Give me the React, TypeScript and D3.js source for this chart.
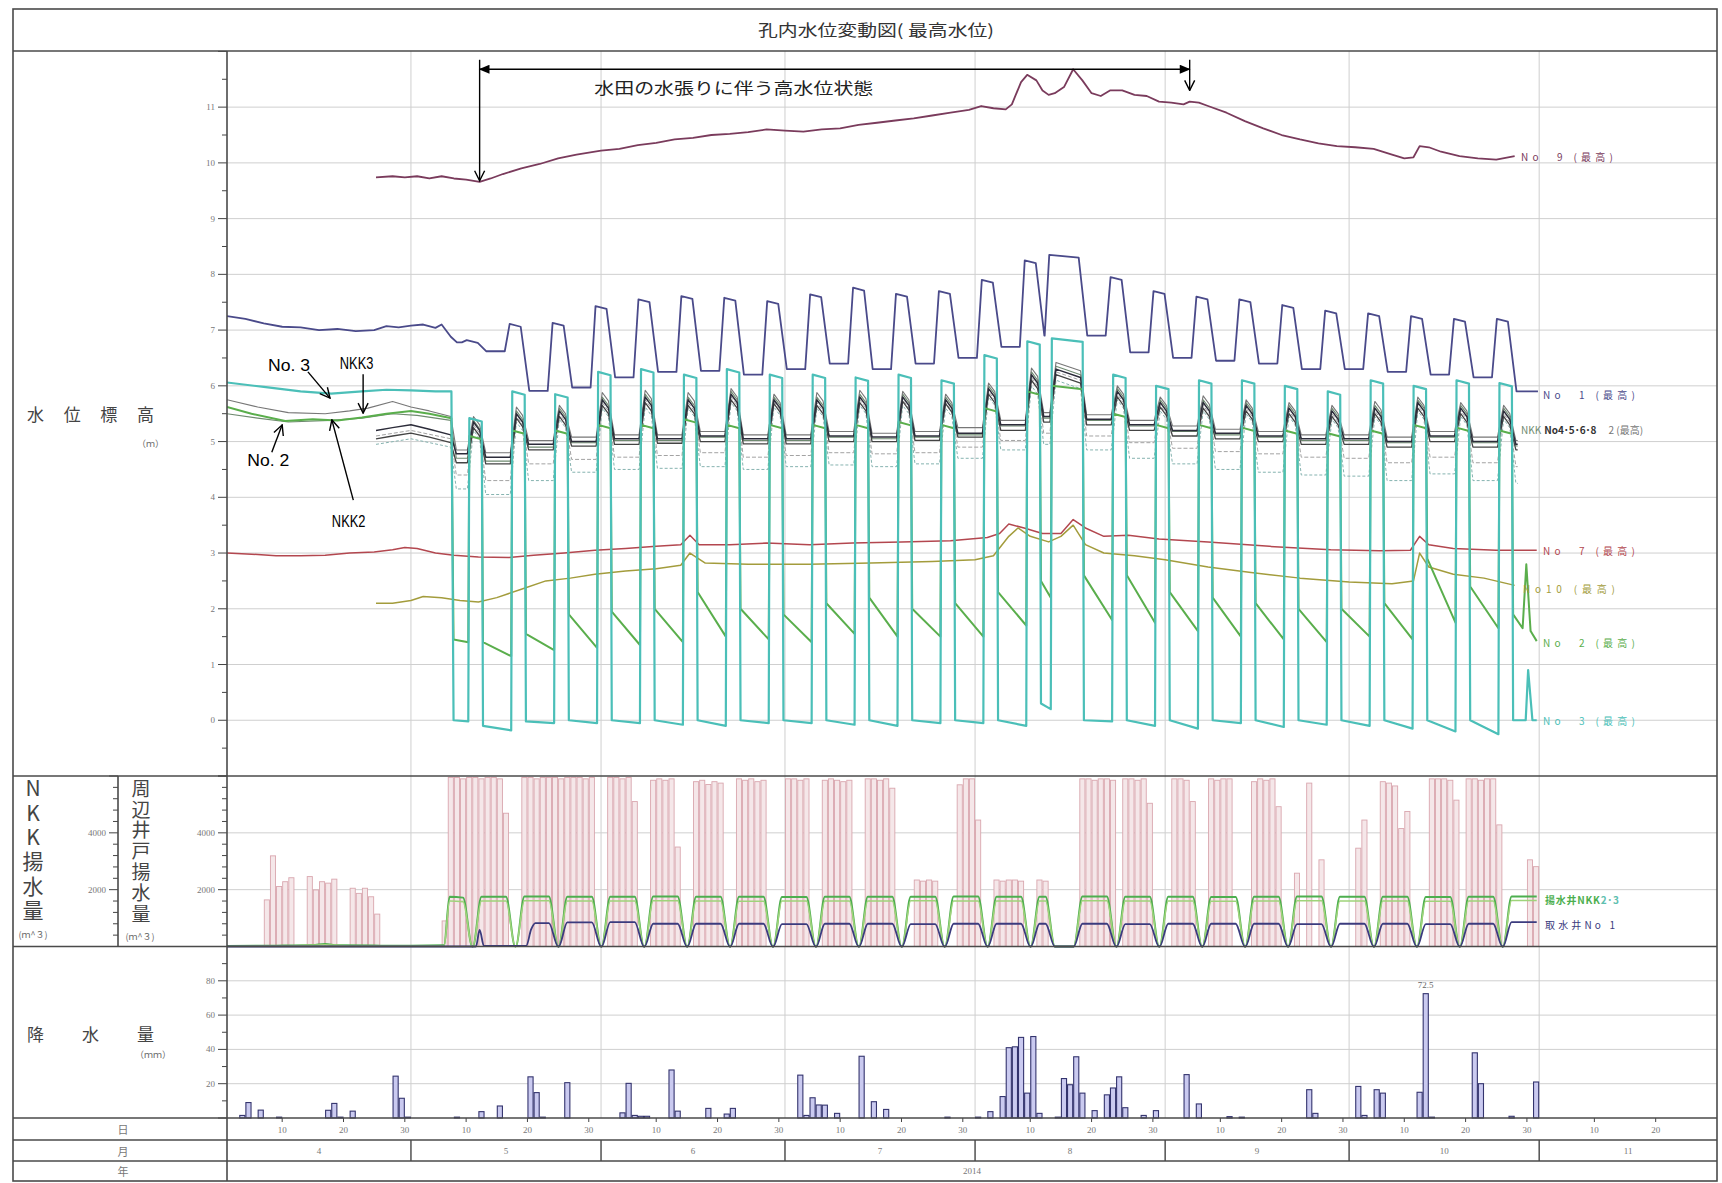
import React from 'react';
import * as d3 from 'd3';

type Pt = [number, number];

// ---- layout (px) ----
const W = 1722;
const H = 1183;
const FRAME_L = 13;
const FRAME_T = 9;
const FRAME_R = 1717;
const FRAME_B = 1181;
const TITLE_B = 51;
const PLOT_L = 227;
const PLOT_R = 1717;
const MAIN_B = 776;
const PUMP_B = 946.5;
const RAIN_B = 1118;
const DAY_B = 1140;
const MON_B = 1161;
const NKK_AXIS = 118;

// ---- time: day numbers counted from 2014-04-01 ----
const DAY0 = new Date(2014, 3, 1);
const DAY_END = new Date(2014, 10, 30);

// weekend / holiday pump stops [from, to]
const pumpStops: Pt[] = [
  [39.4, 41.6], [46.4, 48.6], [53.4, 55.6], [60.4, 62.6], [67.4, 69.6],
  [74.4, 76.6], [81.4, 83.6], [88.4, 90.6], [95.4, 97.6], [102.4, 104.6],
  [109.4, 111.6], [116.4, 118.6], [123.4, 125.6], [130.4, 132.6], [134.4, 139.6],
  [144.4, 146.6], [151.4, 153.6], [158.4, 160.6], [165.4, 167.6], [172.4, 174.6],
  [179.4, 181.6], [186.4, 188.6], [193.4, 195.6], [200.4, 202.6], [207.4, 209.6],
];
const PUMP_START = 36.8;

// ---- water levels (m) ----
const no9Level: Pt[] = [
  [24.3, 9.74], [27, 9.76], [29, 9.74], [31, 9.76], [33, 9.72], [35, 9.76], [37, 9.72], [39, 9.7],
  [41.2, 9.66], [43, 9.72], [45, 9.8], [48, 9.9], [51, 9.98], [54, 10.08], [57, 10.15], [61, 10.22],
  [64, 10.25], [67, 10.32], [70, 10.36], [73, 10.42], [76, 10.45], [79, 10.5], [82, 10.52], [85, 10.55],
  [88, 10.6], [91, 10.58], [94, 10.56], [97, 10.6], [100, 10.62], [103, 10.68], [106, 10.72], [109, 10.76],
  [112, 10.8], [115, 10.85], [118, 10.9], [121, 10.95], [123, 11.02], [125, 10.98], [127, 10.96], [128, 11.05],
  [129.5, 11.45], [130.5, 11.58], [132, 11.48], [133, 11.3], [134, 11.22], [135, 11.25], [136.5, 11.36],
  [138, 11.68], [139.5, 11.48], [141, 11.25], [142.5, 11.2], [144, 11.3], [146, 11.3], [148, 11.22],
  [150, 11.2], [152, 11.1], [154, 11.08], [156, 11.05], [157, 11.1], [158.5, 11.08], [160, 11.02],
  [163, 10.9], [166, 10.75], [169, 10.62], [172, 10.5], [175, 10.42], [178, 10.35], [181, 10.3],
  [184, 10.28], [187, 10.25], [190, 10.15], [192, 10.08], [193.5, 10.1], [194.5, 10.3], [196, 10.28],
  [198, 10.2], [201, 10.12], [204, 10.08], [207, 10.06], [210, 10.12],
];

const no7Level: Pt[] = [
  [0, 3.0], [4, 2.98], [8, 2.95], [12, 2.95], [16, 2.96], [20, 3.0], [24, 3.02], [27, 3.06], [29, 3.1],
  [31, 3.08], [34, 3.0], [37, 2.96], [41, 2.93], [46, 2.92], [50, 2.96], [55, 3.0], [60, 3.05], [65, 3.08],
  [70, 3.12], [74, 3.15], [75.5, 3.32], [77, 3.15], [82, 3.15], [88, 3.18], [95, 3.15], [102, 3.18],
  [110, 3.2], [118, 3.22], [124, 3.28], [126, 3.35], [127.5, 3.52], [130, 3.45], [133, 3.35], [136, 3.35],
  [138, 3.6], [140, 3.45], [143, 3.3], [147, 3.32], [152, 3.25], [160, 3.2], [170, 3.12], [180, 3.06],
  [188, 3.04], [193, 3.05], [194.5, 3.3], [196, 3.15], [200, 3.08], [207, 3.05], [213.6, 3.05],
];

const no10Level: Pt[] = [
  [24.3, 2.1], [27, 2.1], [30, 2.15], [32, 2.22], [35, 2.2], [38, 2.15], [41, 2.12], [44, 2.2], [48, 2.35],
  [52, 2.5], [56, 2.55], [60, 2.62], [65, 2.68], [70, 2.72], [74, 2.78], [75.5, 3.0], [78, 2.82], [85, 2.8],
  [95, 2.8], [105, 2.82], [115, 2.85], [122, 2.88], [125, 2.95], [127.5, 3.3], [129, 3.45], [131, 3.3],
  [134, 3.2], [136, 3.3], [138, 3.5], [140, 3.15], [143, 3.0], [148, 2.95], [153, 2.88], [160, 2.75],
  [167, 2.65], [175, 2.55], [183, 2.48], [190, 2.45], [193.5, 2.5], [194.5, 3.0], [196, 2.75], [200, 2.62],
  [205, 2.55], [210, 2.42],
];

// No.1
const no1Pre: Pt[] = [
  [0, 7.25], [3, 7.2], [6, 7.12], [9, 7.06], [12, 7.05], [15, 7.0], [18, 7.02], [21, 6.98], [24, 7.0],
  [26, 7.07], [28, 7.05], [30, 7.08], [32, 7.1], [34, 7.04], [35, 7.1], [36.5, 6.88],
];
const no1Peaks = [6.82, 7.11, 7.13, 7.43, 7.55, 7.61, 7.58, 7.52, 7.64, 7.76, 7.65, 7.7, 7.9, 8.25, 8.35,
  7.95, 7.7, 7.6, 7.55, 7.45, 7.35, 7.3, 7.25, 7.2, 7.2];
const no1Lows = [6.78, 6.62, 5.91, 5.97, 6.15, 6.25, 6.27, 6.2, 6.3, 6.4, 6.3, 6.4, 6.5, 6.7, 6.9, 6.9,
  6.6, 6.5, 6.45, 6.4, 6.3, 6.3, 6.25, 6.2, 6.15, 5.9];

// No.3 (teal)
const no3Pre: Pt[] = [
  [0, 6.06], [6, 5.98], [12, 5.9], [17, 5.86], [22, 5.9], [26, 5.93], [30, 5.92], [34, 5.9], [36.6, 5.9],
];
const no3Peaks = [5.42, 5.9, 5.85, 6.25, 6.3, 6.2, 6.3, 6.2, 6.2, 6.15, 6.2, 6.1, 6.55, 6.8, 6.85, 6.2,
  6.0, 6.1, 6.1, 6.0, 5.9, 6.1, 6.0, 6.1, 6.05];
const no3LowStart = [0, -0.1, -0.02, 0, 0, 0, 0, 0, 0, 0, 0, 0, 0, 0, 0.3, 0, 0, 0, 0, 0, 0, 0, 0, 0, 0, 0];
const no3LowEnd = [-0.02, -0.18, -0.05, -0.05, -0.05, -0.08, -0.1, -0.05, -0.05, -0.08, -0.1, -0.05, -0.05,
  -0.1, 0.2, -0.02, -0.1, -0.15, -0.05, -0.12, -0.08, -0.1, -0.15, -0.2, -0.25, 0];
const no3Tail: Pt[] = [[212.2, 0.9], [212.9, 0], [213.6, 0]];

// No.2 (green)
const no2Pre: Pt[] = [
  [0, 5.62], [4, 5.5], [9.5, 5.37], [14, 5.4], [18, 5.38], [22, 5.43], [26, 5.5], [30, 5.55], [33, 5.5],
  [36.6, 5.42],
];
const no2Peaks = [5.1, 5.2, 5.2, 5.3, 5.3, 5.4, 5.3, 5.3, 5.3, 5.3, 5.35, 5.3, 5.6, 5.9, 6.0, 5.5, 5.3,
  5.3, 5.25, 5.2, 5.15, 5.2, 5.3, 5.25, 5.2];
const no2LowStart = [1.45, 1.4, 1.55, 1.9, 1.95, 2.0, 2.3, 2.0, 1.9, 2.1, 2.2, 2.0, 2.1, 2.3, 2.5, 2.6,
  2.6, 2.3, 2.2, 2.1, 2.0, 2.0, 2.1, 2.9, 2.4, 1.9];
const no2LowEnd = [1.4, 1.15, 1.26, 1.3, 1.35, 1.4, 1.5, 1.45, 1.4, 1.55, 1.5, 1.5, 1.5, 1.7, 2.2, 1.8,
  1.75, 1.6, 1.5, 1.45, 1.4, 1.5, 1.45, 1.75, 1.65, 1.65];
const no2Tail: Pt[] = [[211.9, 2.8], [212.6, 1.6], [213.6, 1.42]];

// bundle of other wells around 5 m
const nkk3Pre: Pt[] = [
  [0, 5.75], [5, 5.62], [10, 5.52], [16, 5.5], [20, 5.55], [23, 5.6], [27, 5.72], [30, 5.62], [33, 5.55],
  [36.5, 5.45],
];
const nkk3Peaks = [5.45, 5.62, 5.65, 5.88, 5.92, 5.88, 5.95, 5.85, 5.88, 5.92, 5.9, 5.85, 6.05, 6.32, 6.42,
  6.0, 5.8, 5.82, 5.75, 5.7, 5.65, 5.72, 5.8, 5.7, 5.65];
const nkk3Lows = [4.85, 4.8, 5.02, 5.08, 5.12, 5.12, 5.18, 5.12, 5.12, 5.18, 5.15, 5.18, 5.25, 5.38, 5.52,
  5.48, 5.38, 5.28, 5.22, 5.18, 5.12, 5.12, 5.08, 5.18, 5.08, 5.02];

const nkk2Pre: Pt[] = [
  [0, 5.5], [5, 5.42], [10, 5.35], [16.8, 5.38], [22, 5.42], [27, 5.5], [31, 5.47], [36.5, 5.38],
];
const nkk2Peaks = [5.38, 5.55, 5.6, 5.8, 5.85, 5.8, 5.9, 5.8, 5.8, 5.85, 5.85, 5.8, 6.0, 6.25, 6.35, 5.95,
  5.75, 5.75, 5.7, 5.65, 5.6, 5.65, 5.75, 5.65, 5.6];
const nkk2Lows = [4.7, 4.65, 4.9, 4.98, 5.02, 5.02, 5.08, 5.02, 5.02, 5.08, 5.05, 5.08, 5.12, 5.28, 5.42,
  5.38, 5.28, 5.18, 5.12, 5.08, 5.02, 5.02, 4.98, 5.08, 4.98, 4.92];

const no4Pre: Pt[] = [[24.3, 5.2], [27, 5.25], [30, 5.3], [33, 5.22], [36.5, 5.12]];
const no4Peaks = [5.35, 5.5, 5.55, 5.75, 5.8, 5.75, 5.85, 5.75, 5.75, 5.8, 5.8, 5.75, 5.95, 6.2, 6.3, 5.9,
  5.7, 5.7, 5.65, 5.6, 5.55, 5.6, 5.7, 5.6, 5.55];
const no4Lows = [4.78, 4.72, 4.95, 5.0, 5.05, 5.05, 5.1, 5.05, 5.05, 5.1, 5.08, 5.1, 5.15, 5.3, 5.45, 5.4,
  5.3, 5.2, 5.15, 5.1, 5.05, 5.05, 5.0, 5.1, 5.0, 4.95];

const no5Pre: Pt[] = [[24.3, 5.05], [27, 5.1], [30, 5.15], [33, 5.08], [36.5, 4.98]];
const no5Peaks = [5.25, 5.42, 5.45, 5.65, 5.7, 5.65, 5.75, 5.68, 5.65, 5.7, 5.72, 5.68, 5.85, 6.1, 6.2,
  5.8, 5.62, 5.6, 5.55, 5.5, 5.45, 5.5, 5.6, 5.5, 5.45];
const no5Lows = [4.62, 4.6, 4.85, 4.92, 4.95, 4.97, 5.0, 4.96, 4.96, 5.0, 5.0, 5.02, 5.08, 5.2, 5.35, 5.3,
  5.2, 5.1, 5.05, 5.0, 4.95, 4.95, 4.9, 5.0, 4.9, 4.85];

const no6Pre: Pt[] = [[24.3, 4.95], [30, 5.05], [36.5, 4.9]];
const no6Peaks = [5.2, 5.35, 5.4, 5.6, 5.62, 5.6, 5.7, 5.62, 5.6, 5.65, 5.65, 5.6, 5.8, 6.0, 6.1, 5.75,
  5.55, 5.55, 5.5, 5.45, 5.4, 5.45, 5.55, 5.45, 5.4];
const no6Lows = [4.15, 4.05, 4.3, 4.45, 4.5, 4.52, 4.55, 4.5, 4.55, 4.58, 4.55, 4.6, 4.7, 4.85, 4.95, 4.85,
  4.7, 4.6, 4.5, 4.45, 4.4, 4.38, 4.3, 4.42, 4.3, 4.25];

const no8Pre: Pt[] = [[24.3, 5.1], [30, 5.2], [36.5, 5.05]];
const no8Peaks = [5.3, 5.45, 5.5, 5.7, 5.75, 5.7, 5.8, 5.72, 5.7, 5.75, 5.75, 5.7, 5.9, 6.15, 6.25, 5.85,
  5.65, 5.65, 5.6, 5.55, 5.5, 5.55, 5.65, 5.55, 5.5];
const no8Lows = [4.4, 4.3, 4.6, 4.68, 4.72, 4.75, 4.8, 4.72, 4.75, 4.8, 4.78, 4.8, 4.9, 5.02, 5.15, 5.1,
  4.98, 4.88, 4.82, 4.78, 4.72, 4.7, 4.62, 4.72, 4.62, 4.55];

// ---- pumping (m3/day) ----
const wellPumpBars: Pt[] = [
  [6, 1640], [7, 3190], [8, 2110], [9, 2280], [10, 2420], [13, 2460], [14, 1990], [15, 2280], [16, 2230],
  [17, 2370], [20, 2050], [21, 1870], [22, 2050], [23, 1750], [24, 1140],
  [35, 900], [36, 5950], [37, 5950], [38, 5900], [39, 5950], [40, 5950], [41, 5900], [42, 5950], [43, 5950],
  [44, 5900], [45, 4690],
  [48, 5950], [49, 5950], [50, 5900], [51, 5950], [52, 5950], [53, 5950], [54, 5900], [55, 5950], [56, 5950],
  [57, 5950], [58, 5900], [59, 5950],
  [62, 5950], [63, 5950], [64, 5900], [65, 5950], [66, 5100],
  [69, 5850], [70, 5900], [71, 5850], [72, 5900], [73, 3500],
  [76, 5800], [77, 5850], [78, 5700], [79, 5800], [80, 5750],
  [83, 5900], [84, 5850], [85, 5900], [86, 5800], [87, 5850],
  [91, 5900], [92, 5900], [93, 5850], [94, 5900],
  [97, 5850], [98, 5900], [99, 5850], [100, 5800], [101, 5850],
  [104, 5900], [105, 5900], [106, 5850], [107, 5900], [108, 5570],
  [112, 2340], [113, 2300], [114, 2340], [115, 2300],
  [119, 5690], [120, 5900], [121, 5900], [122, 4450],
  [125, 2340], [126, 2300], [127, 2340], [128, 2340], [129, 2300],
  [132, 2340], [133, 2300],
  [139, 5900], [140, 5900], [141, 5850], [142, 5900], [143, 5900], [144, 5850],
  [146, 5900], [147, 5900], [148, 5850], [149, 5900], [150, 5040],
  [154, 5900], [155, 5900], [156, 5850], [157, 5100],
  [160, 5900], [161, 5850], [162, 5900], [163, 5900],
  [167, 5800], [168, 5900], [169, 5850], [170, 5900], [171, 4920],
  [174, 2580], [176, 5750], [178, 3050],
  [184, 3460], [185, 4450], [188, 5800], [189, 5750], [190, 5650], [191, 4150], [192, 4750],
  [196, 5900], [197, 5900], [198, 5900], [199, 5850], [200, 5150],
  [202, 5900], [203, 5900], [204, 5850], [205, 5900], [206, 5900], [207, 4280],
  [212, 3050], [213, 2810],
];

const nkk2PumpPre: Pt[] = [[0, 20], [8, 30], [14, 50], [16, 90], [18, 40], [25, 30], [30, 25], [35.4, 40], [36.3, 1750]];
const nkk2PumpTops = [1720, 1750, 1760, 1750, 1750, 1760, 1750, 1750, 1740, 1750, 1750, 1750, 1760, 1750,
  1750, 1760, 1750, 1750, 1740, 1750, 1760, 1750, 1750, 1740, 1750, 1760];
const nkk3PumpPre: Pt[] = [[0, 10], [10, 20], [16, 60], [20, 20], [35.4, 20], [36.3, 1600]];
const nkk3PumpTops = [1580, 1600, 1610, 1600, 1600, 1610, 1600, 1590, 1600, 1600, 1600, 1610, 1600, 1600,
  1600, 1610, 1600, 1600, 1590, 1600, 1610, 1600, 1600, 1590, 1600, 1620];
const intakePumpPre: Pt[] = [[0, 0], [40.6, 0], [41.2, 580], [41.9, 20], [48.8, 20], [49.6, 600], [50.3, 820]];
const intakePumpTops = [0, 0, 820, 850, 860, 800, 800, 800, 790, 800, 800, 790, 800, 800, 800, 800, 790,
  800, 800, 800, 790, 800, 800, 790, 800, 860];

// ---- rainfall (mm/day) ----
const rainfall: Pt[] = [
  [2, 1.5], [3, 9], [5, 4.6], [8, 0.5], [16, 4.5], [17, 8.5], [18, 0.5], [20, 4], [27, 24.4], [28, 11.5], [29, 0.5],
  [37, 0.5], [41, 3.7], [44, 7], [49, 24], [50, 14.8], [51, 0.5], [55, 20.6],
  [64, 3], [65, 20.2], [66, 1.5], [67, 1], [68, 1], [72, 28], [73, 4], [78, 5.6], [81, 2.3], [82, 5.6],
  [93, 25], [94, 1.5], [95, 11.8], [96, 7.6], [97, 7.5], [99, 2.7], [103, 36], [105, 9.5], [107, 5], [117, 0.5],
  [122, 0.5], [124, 3.7], [126, 12.5], [127, 41], [128, 41.5], [129, 47], [130, 14.5], [131, 47.5], [132, 2.7],
  [135, 0.5], [136, 23], [137, 19.4], [138, 35.7], [139, 14.5], [141, 4.3], [143, 13.5], [144, 17.5], [145, 24],
  [146, 6], [149, 1.5], [151, 4.3],
  [156, 25.3], [158, 8.2], [163, 0.8], [165, 0.5], [176, 16.5], [177, 2.7],
  [184, 18.4], [185, 1.5], [187, 16.5], [188, 14.5], [194, 15], [195, 72.5], [196, 0.5], [203, 38], [204, 20],
  [209, 1], [213, 21],
];

const monthNames = ['4', '5', '6', '7', '8', '9', '10', '11'];
const dayTickLabels = [10, 20, 30];

interface Shape { drop: number; rise: number; on: number; off: number; sag: number }

// polyline for a well that rises at each pump stop and falls back when pumping resumes
function weekly(pre: Pt[], peaks: number[], lowA: number[], lowB: number[] | null, endDay: number, tail: Pt[], s: Shape): Pt[] {
  const pts: Pt[] = [...pre];
  for (let k = 0; k <= pumpStops.length; k++) {
    const start = k === 0 ? PUMP_START + s.drop : pumpStops[k - 1][1] + s.drop;
    const end = k < pumpStops.length ? pumpStops[k][0] + s.rise : endDay;
    pts.push([start, lowA[k]]);
    pts.push([Math.max(end, start + 0.05), lowB ? lowB[k] : lowA[k]]);
    if (k < pumpStops.length) {
      pts.push([pumpStops[k][0] + s.on, peaks[k]]);
      pts.push([pumpStops[k][1] + s.off, peaks[k] - s.sag]);
    }
  }
  return pts.concat(tail);
}

function pumping(pre: Pt[], firstK: number, tops: number[], endDay: number): Pt[] {
  const pts: Pt[] = [...pre];
  for (let k = firstK; k < pumpStops.length; k++) {
    const [a, b] = pumpStops[k];
    pts.push([a - 0.9, tops[k]], [a + 0.6, 0]);
    if (b - 1.5 > a + 0.6) pts.push([b - 1.5, 0]);
    pts.push([b - 0.1, tops[k + 1]]);
  }
  pts.push([endDay, tops[pumpStops.length]]);
  return pts;
}

const SHARP: Shape = { drop: 0.15, rise: -0.05, on: 0.12, off: -0.05, sag: 0.06 };
const SOFT: Shape = { drop: 0.6, rise: -0.2, on: 0.8, off: -0.4, sag: 0.15 };
const EARLY: Shape = { drop: 0.7, rise: -1.1, on: -0.3, off: -0.7, sag: 0.05 };

const SERIF = "'Liberation Serif', 'DejaVu Serif', serif";
const JP = "'Noto Sans CJK JP', 'Noto Sans', sans-serif";

export default function App() {
  const x = d3.scaleTime().domain([DAY0, DAY_END]).range([PLOT_L, PLOT_R]);
  const xd = (d: number) => x(new Date(DAY0.getTime() + d * 864e5));
  const yLev = d3.scaleLinear().domain([-1, 12]).range([MAIN_B, TITLE_B + 0.4]);
  const yPump = d3.scaleLinear().domain([0, 6000]).range([PUMP_B, MAIN_B]);
  const yRain = d3.scaleLinear().domain([0, 100]).range([RAIN_B, PUMP_B]);

  const lev = d3.line<Pt>().x(p => xd(p[0])).y(p => yLev(p[1]));
  const pumpLine = d3.line<Pt>().x(p => xd(p[0])).y(p => yPump(p[1])).curve(d3.curveMonotoneX);

  const levelSeries = [
    { pts: weekly(no6Pre, no6Peaks, no6Lows, null, 210.5, [], SOFT), c: '#86b3b0', w: 1, dash: '3 2' },
    { pts: weekly(no8Pre, no8Peaks, no8Lows, null, 210.5, [], SOFT), c: '#a3a3a3', w: 1, dash: '4 2' },
    { pts: no7Level, c: '#b3474f', w: 1.5 },
    { pts: no10Level, c: '#a39c3c', w: 1.5 },
    { pts: weekly(nkk2Pre, nkk2Peaks, nkk2Lows, null, 210.5, [], SOFT), c: '#6f8a70', w: 1.1 },
    { pts: weekly(nkk3Pre, nkk3Peaks, nkk3Lows, null, 210.5, [], SOFT), c: '#777777', w: 1.1 },
    { pts: weekly(no5Pre, no5Peaks, no5Lows, null, 210.5, [], SOFT), c: '#444444', w: 1.3 },
    { pts: weekly(no4Pre, no4Peaks, no4Lows, null, 210.5, [], SOFT), c: '#2c2c3a', w: 1.5 },
    { pts: weekly(no2Pre, no2Peaks, no2LowStart, no2LowEnd, 211.3, no2Tail, SHARP), c: '#5aae4c', w: 2 },
    { pts: weekly(no3Pre, no3Peaks, no3LowStart, no3LowEnd, 211.8, no3Tail, SHARP), c: '#4bbfb8', w: 2.2 },
    { pts: weekly(no1Pre, no1Peaks, no1Lows, null, 213.8, [], EARLY), c: '#4a4a8a', w: 1.8 },
    { pts: no9Level, c: '#7a3b5c', w: 1.8 },
  ];

  const rightLabels = [
    { t: 'No　9 (最高)', v: 10.12, x: 1521, c: '#7a3b5c' },
    { t: 'No　1 (最高)', v: 5.85, x: 1543, c: '#4a4a8a' },
    { t: 'No　7 (最高)', v: 3.05, x: 1543, c: '#b3474f' },
    { t: 'No10 (最高)', v: 2.37, x: 1523, c: '#a39c3c' },
    { t: 'No　2 (最高)', v: 1.39, x: 1543, c: '#5aae4c' },
    { t: 'No　3 (最高)', v: 0.0, x: 1543, c: '#4bbfb8' },
  ];

  // hand-written notes on the chart, positioned in (day, level)
  const notes = [
    { t: 'No. 3', at: [6.7, 6.27] as Pt, from: [13.2, 6.25] as Pt, to: [16.8, 5.78] as Pt },
    { t: 'NKK3', at: [18.4, 6.3] as Pt, from: [22.2, 6.21] as Pt, to: [22.2, 5.51] as Pt },
    { t: 'No. 2', at: [3.3, 4.56] as Pt, from: [7.3, 4.81] as Pt, to: [9.0, 5.3] as Pt },
    { t: 'NKK2', at: [17.1, 3.47] as Pt, from: [20.6, 3.95] as Pt, to: [17.1, 5.39] as Pt },
  ];
  const span = { from: 41.2, to: 157.0, top: 11.85, bar: 11.68, leftTip: 9.68, rightTip: 11.3, textDay: 59.9, textV: 11.24 };

  const months = d3.timeMonth.range(DAY0, new Date(2014, 11, 1));
  const monthStarts = months.slice(1);
  const levTicks = d3.range(-1, 12.01, 0.5);
  const pumpTicks = d3.range(0, 6001, 400);
  const rainTicks = d3.range(0, 101, 10);
  const bw = xd(1) - xd(0);

  const axisTicks = (ax: number, ticks: number[], sc: (v: number) => number, isMajor: (v: number) => boolean, label: (v: number) => string | null, keyp: string) =>
    ticks.map(v => {
      const y = sc(v);
      const lab = label(v);
      return (
        <g key={keyp + v}>
          <line x1={ax - (isMajor(v) ? 9 : 5)} x2={ax} y1={y} y2={y} stroke="#444" strokeWidth={1} />
          {lab && (
            <text x={ax - 12} y={y} textAnchor="end" dominantBaseline="central" fontFamily={SERIF} fontSize={9} fill="#777">{lab}</text>
          )}
        </g>
      );
    });

  const vertical = { writingMode: 'vertical-rl', textOrientation: 'upright' } as React.CSSProperties;

  return (
    <div>
      <style>{'body{margin:0;background:#fff}'}</style>
      <svg width={W} height={H} style={{ display: 'block' }} fontFamily={JP}>
        <defs>
          <marker id="openHead" viewBox="0 0 12 12" refX="11" refY="6" markerWidth="12" markerHeight="12" markerUnits="userSpaceOnUse" orient="auto">
            <path d="M1,1 L11,6 L1,11" fill="none" stroke="#000" strokeWidth={1.4} />
          </marker>
          <marker id="fillHead" viewBox="0 0 12 10" refX="11" refY="5" markerWidth="12" markerHeight="9" markerUnits="userSpaceOnUse" orient="auto-start-reverse">
            <path d="M0,0 L12,5 L0,10 Z" fill="#000" />
          </marker>
          <clipPath id="plotClip">
            <rect x={PLOT_L} y={TITLE_B} width={PLOT_R - PLOT_L} height={RAIN_B - TITLE_B} />
          </clipPath>
        </defs>
        <rect x={0} y={0} width={W} height={H} fill="#fff" />

        {/* grid */}
        <g stroke="#cfcfcf" strokeWidth={1}>
          {d3.range(0, 12).map(v => (
            <line key={'gl' + v} x1={PLOT_L} x2={PLOT_R} y1={yLev(v)} y2={yLev(v)} />
          ))}
          {[2000, 4000].map(v => (
            <line key={'gp' + v} x1={PLOT_L} x2={PLOT_R} y1={yPump(v)} y2={yPump(v)} />
          ))}
          {[20, 40, 60, 80].map(v => (
            <line key={'gr' + v} x1={PLOT_L} x2={PLOT_R} y1={yRain(v)} y2={yRain(v)} />
          ))}
          {monthStarts.map(m => (
            <line key={'gm' + m.getMonth()} x1={x(m)} x2={x(m)} y1={TITLE_B} y2={RAIN_B} />
          ))}
        </g>

        {/* water levels */}
        <g clipPath="url(#plotClip)" fill="none" strokeLinejoin="round">
          {levelSeries.map((s, i) => (
            <path key={'ls' + i} d={lev(s.pts) || ''} stroke={s.c} strokeWidth={s.w} strokeDasharray={s.dash} />
          ))}
        </g>
        {rightLabels.map((l, i) => (
          <text key={'rl' + i} x={l.x} y={yLev(l.v)} dominantBaseline="central" fontSize={10} fill={l.c}
            fontFamily={JP} style={{ whiteSpace: 'pre' }} textLength={92} lengthAdjust="spacing">
            {l.t}
          </text>
        ))}
        {/* crowded label of the wells bundled around 5 m */}
        <text x={1521} y={yLev(5.22)} dominantBaseline="central" fontSize={10} fontFamily={JP} style={{ whiteSpace: 'pre' }}>
          <tspan fill="#6f8a70">NKK</tspan>
          <tspan fill="#333" fontWeight="bold" dx={3}>No4･5･6･8</tspan>
          <tspan fill="#777" dx={12}>2 (最高)</tspan>
        </text>

        {/* annotation: high water period */}
        <g stroke="#000" strokeWidth={1.4} fill="none">
          <line x1={xd(span.from)} x2={xd(span.from)} y1={yLev(span.top)} y2={yLev(span.leftTip)} markerEnd="url(#openHead)" />
          <line x1={xd(span.to)} x2={xd(span.to)} y1={yLev(span.top)} y2={yLev(span.rightTip)} markerEnd="url(#openHead)" />
          <line x1={xd(span.from)} x2={xd(span.to)} y1={yLev(span.bar)} y2={yLev(span.bar)} markerStart="url(#fillHead)" markerEnd="url(#fillHead)" />
        </g>
        <text x={xd(span.textDay)} y={yLev(span.textV)} fontSize={16} fill="#222" textLength={279} lengthAdjust="spacingAndGlyphs">
          水田の水張りに伴う高水位状態
        </text>
        {notes.map((n, i) => (
          <g key={'nt' + i}>
            <text x={xd(n.at[0])} y={yLev(n.at[1])} fontSize={16} fontFamily="'Liberation Sans Narrow', 'Liberation Sans', sans-serif" fill="#000" textLength={n.t.length * 8.4} lengthAdjust="spacingAndGlyphs">{n.t}</text>
            <line x1={xd(n.from[0])} y1={yLev(n.from[1])} x2={xd(n.to[0])} y2={yLev(n.to[1])} stroke="#000" strokeWidth={1.4} markerEnd="url(#openHead)" />
          </g>
        ))}

        {/* pumping */}
        <g>
          {wellPumpBars.map(([d, v]) => (
            <rect key={'wb' + d} x={xd(d) + 0.5} y={yPump(Math.min(v, 6000))} width={bw - 1} height={PUMP_B - yPump(Math.min(v, 6000))}
              fill="#f5e7e9" stroke="#d9a6ae" strokeWidth={0.9} />
          ))}
        </g>
        <g fill="none">
          <path d={pumpLine(pumping(nkk2PumpPre, 0, nkk2PumpTops, 213.6)) || ''} stroke="#4daf4f" strokeWidth={2} />
          <path d={pumpLine(pumping(nkk3PumpPre, 0, nkk3PumpTops, 213.6)) || ''} stroke="#9fd37a" strokeWidth={1.6} />
          <path d={pumpLine(pumping(intakePumpPre, 2, intakePumpTops, 213.6)) || ''} stroke="#3b3b7e" strokeWidth={1.8} />
        </g>
        <text x={1545} y={yPump(1680)} dominantBaseline="central" fontSize={10} fontWeight="bold" textLength={74} lengthAdjust="spacing">
          <tspan fill="#4daf4f">揚水井NKK</tspan>
          <tspan fill="#5fc0b0">2･3</tspan>
        </text>
        <text x={1545} y={yPump(760)} dominantBaseline="central" fontSize={10} fill="#3b3b7e" textLength={70} lengthAdjust="spacing">取水井No 1</text>

        {/* rainfall */}
        <g>
          {rainfall.map(([d, v]) => (
            <rect key={'rb' + d} x={xd(d) + 0.5} y={yRain(v)} width={bw - 1} height={RAIN_B - yRain(v)}
              fill="#cacaf0" stroke="#34346e" strokeWidth={1.1} />
          ))}
          {rainfall.filter(r => r[1] > 60).map(([d, v]) => (
            <text key={'rv' + d} x={xd(d + 0.5)} y={yRain(v) - 6} textAnchor="middle" fontFamily={SERIF} fontSize={9} fill="#666">{v}</text>
          ))}
        </g>

        {/* axes */}
        {axisTicks(PLOT_L, levTicks, yLev, v => Number.isInteger(v), v => (Number.isInteger(v) && v >= 0 && v <= 11 ? String(v) : null), 'lt')}
        {axisTicks(PLOT_L, pumpTicks, yPump, v => v % 2000 === 0, v => (v === 2000 || v === 4000 ? String(v) : null), 'pt')}
        {axisTicks(NKK_AXIS, pumpTicks, yPump, v => v % 2000 === 0, v => (v === 2000 || v === 4000 ? String(v) : null), 'nt')}
        {axisTicks(PLOT_L, rainTicks, yRain, v => v % 20 === 0, v => ([20, 40, 60, 80].includes(v) ? String(v) : null), 'rt')}

        {/* time axis rows */}
        {months.map(m => {
          const next = d3.timeMonth.offset(m, 1);
          const end = next > DAY_END ? DAY_END : next;
          return (
            <g key={'mo' + m.getMonth()}>
              {dayTickLabels.filter(dd => x(new Date(2014, m.getMonth(), dd)) < PLOT_R - 2).map(dd => {
                const px = x(new Date(2014, m.getMonth(), dd));
                return (
                  <g key={'dt' + dd}>
                    <line x1={px} x2={px} y1={RAIN_B} y2={RAIN_B + 4} stroke="#444" />
                    <text x={px} y={RAIN_B + 12} textAnchor="middle" dominantBaseline="central" fontFamily={SERIF} fontSize={9} fill="#777">{dd}</text>
                  </g>
                );
              })}
              <text x={(x(m) + x(end)) / 2} y={(DAY_B + MON_B) / 2} textAnchor="middle" dominantBaseline="central" fontFamily={SERIF} fontSize={9} fill="#777">
                {monthNames[m.getMonth() - 3]}
              </text>
              {m > DAY0 && <line x1={x(m)} x2={x(m)} y1={DAY_B} y2={MON_B} stroke="#444" strokeWidth={1.4} />}
            </g>
          );
        })}
        <text x={(PLOT_L + PLOT_R) / 2} y={(MON_B + FRAME_B) / 2} textAnchor="middle" dominantBaseline="central" fontFamily={SERIF} fontSize={9} fill="#777">2014</text>

        {/* frame and table lines */}
        <g stroke="#4a4a4a" strokeWidth={1.6} fill="none">
          <rect x={FRAME_L} y={FRAME_T} width={FRAME_R - FRAME_L} height={FRAME_B - FRAME_T} />
          {[TITLE_B, MAIN_B, PUMP_B, RAIN_B, DAY_B, MON_B].map(y => (
            <line key={'hl' + y} x1={FRAME_L} x2={FRAME_R} y1={y} y2={y} />
          ))}
          <line x1={PLOT_L} x2={PLOT_L} y1={TITLE_B} y2={FRAME_B} />
          <line x1={NKK_AXIS} x2={NKK_AXIS} y1={MAIN_B} y2={PUMP_B} />
        </g>

        {/* titles */}
        <text x={758} y={36} fontSize={16} fill="#333" textLength={236} lengthAdjust="spacingAndGlyphs">孔内水位変動図( 最高水位)</text>
        <text x={27} y={421} fontSize={17} fill="#444" textLength={127} lengthAdjust="spacing">水 位 標 高</text>
        <text x={137} y={447} fontSize={9} fill="#666">（ｍ）</text>
        {/* vertical headings of the pumping panel */}
        <text x={33} y={778} fontSize={21} fill="#444" style={vertical} letterSpacing={3.3}>NKK揚水量</text>
        <text x={33} y={934} textAnchor="middle" dominantBaseline="central" fontSize={9} fill="#666">(ｍ^３)</text>
        <text x={141} y={779} fontSize={19} fill="#444" style={vertical} letterSpacing={1.8}>周辺井戸揚水量</text>
        <text x={140} y={936} textAnchor="middle" dominantBaseline="central" fontSize={9} fill="#666">(ｍ^３)</text>
        <text x={27} y={1041} fontSize={17} fill="#444" textLength={127} lengthAdjust="spacing">降　水　量</text>
        <text x={135} y={1058} fontSize={9} fill="#666">（ｍｍ）</text>
        <text x={123} y={(RAIN_B + DAY_B) / 2} textAnchor="middle" dominantBaseline="central" fontSize={11} fill="#777">日</text>
        <text x={123} y={(DAY_B + MON_B) / 2} textAnchor="middle" dominantBaseline="central" fontSize={11} fill="#777">月</text>
        <text x={123} y={(MON_B + FRAME_B) / 2} textAnchor="middle" dominantBaseline="central" fontSize={11} fill="#777">年</text>
      </svg>
    </div>
  );
}
